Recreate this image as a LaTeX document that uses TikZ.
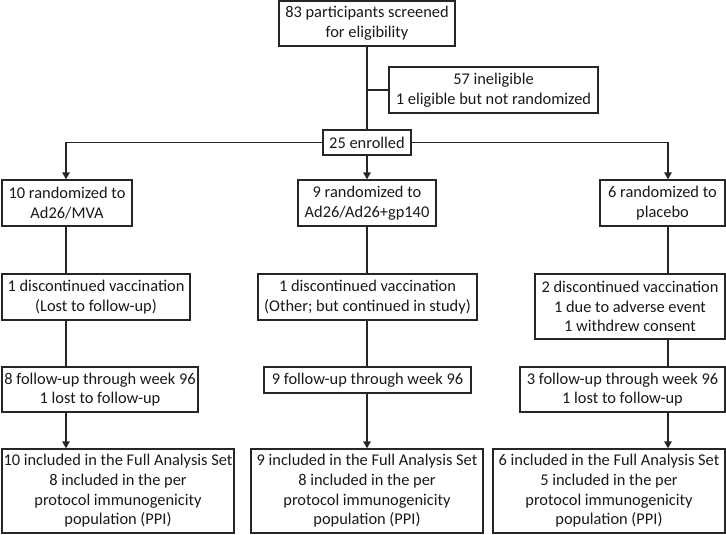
\documentclass[tikz,border=0pt]{standalone}
\usepackage{fontspec}
\setmainfont{Carlito}
\usetikzlibrary{arrows.meta,calc}
\begin{document}
\begin{tikzpicture}[x=1pt,y=-1pt,
  box/.style={draw=black!85,line width=1.3pt,align=center,inner sep=1pt,
    font=\fontsize{16.4}{19.7}\selectfont,text=black!90},
  conn/.style={draw=black!85,line width=1.3pt},
  arr/.style={conn,-{Triangle[width=7.5pt,length=7pt]}}]
\useasboundingbox (0,0) rectangle (726,535);
% nodes
\node[box,minimum width=176pt,minimum height=45pt] (top) at (367,23.5) {83 participants screened\\for eligibility};
\node[box,minimum width=209pt,minimum height=46pt] (inel) at (493.5,90) {57 ineligible\\1 eligible but not randomized};
\node[box,minimum width=88pt,minimum height=25pt] (enr) at (367,142.5) {25 enrolled};
\node[box,minimum width=130pt,minimum height=46pt] (r1a) at (67,203) {10 randomized to\\Ad26/MVA};
\node[box,minimum width=138pt,minimum height=46pt] (r1b) at (367,203) {9 randomized to\\Ad26/Ad26+gp140};
\node[box,minimum width=125pt,minimum height=46pt] (r1c) at (662.5,203) {6 randomized to\\placebo};
\node[box,minimum width=188pt,minimum height=46pt] (r2a) at (96,297) {1 discontinued vaccination\\(Lost to follow-up)};
\node[box,minimum width=219pt,minimum height=46pt] (r2b) at (367.5,297) {1 discontinued vaccination\\(Other; but continued in study)};
\node[box,minimum width=190pt,minimum height=65pt] (r2c) at (630,306.5) {2 discontinued vaccination\\1 due to adverse event\\1 withdrew consent};
\node[box,minimum width=196pt,minimum height=45pt] (r3a) at (100,389.5) {8 follow-up through week 96\\1 lost to follow-up};
\node[box,minimum width=207pt,minimum height=26pt] (r3b) at (367.5,380) {9 follow-up through week 96};
\node[box,minimum width=205pt,minimum height=45pt] (r3c) at (622.5,389.5) {3 follow-up through week 96\\1 lost to follow-up};
\node[box,minimum width=232pt,minimum height=84pt] (r4a) at (118,491) {10 included in the Full Analysis Set\\8 included in the per\\protocol immunogenicity\\population (PPI)};
\node[box,minimum width=232pt,minimum height=84pt] (r4b) at (367,491) {9 included in the Full Analysis Set\\8 included in the per\\protocol immunogenicity\\population (PPI)};
\node[box,minimum width=232pt,minimum height=84pt] (r4c) at (609,491) {6 included in the Full Analysis Set\\5 included in the per\\protocol immunogenicity\\population (PPI)};
\coordinate (colA) at (66,143);
\coordinate (colC) at (668,143);
% connectors
\draw[conn] (top.south) -- (enr.north);
\draw[conn] (top.south |- inel.west) -- (inel.west);
\draw[arr] (enr.west) -| (colA |- r1a.north);
\draw[arr] (enr.east) -| (colC |- r1c.north);
\draw[arr] (enr.south) -- (r1b.north);
% left column
\draw[conn] (colA |- r1a.south) -- (colA |- r2a.north);
\draw[conn] (colA |- r2a.south) -- (colA |- r3a.north);
\draw[arr] (colA |- r3a.south) -- (colA |- r4a.north);
% middle column
\draw[conn] (r1b.south) -- (r1b.south |- r2b.north);
\draw[conn] (r1b.south |- r2b.south) -- (r1b.south |- r3b.north);
\draw[arr] (r1b.south |- r3b.south) -- (r1b.south |- r4b.north);
% right column
\draw[conn] (colC |- r1c.south) -- (colC |- r2c.north);
\draw[conn] (colC |- r2c.south) -- (colC |- r3c.north);
\draw[arr] (colC |- r3c.south) -- (colC |- r4c.north);
\end{tikzpicture}
\end{document}
